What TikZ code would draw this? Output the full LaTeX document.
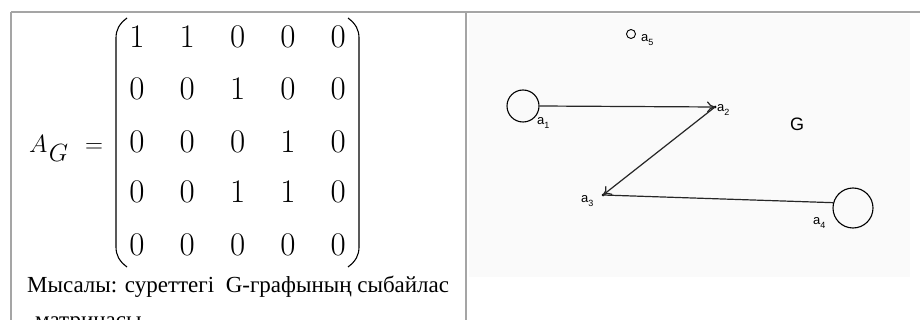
\documentclass[tikz,border=0pt]{standalone}
\usepackage{fontspec}
\newfontfamily\capfont{Liberation Serif}
\newfontfamily\labfont{Liberation Sans}
\usetikzlibrary{arrows.meta}
\definecolor{bordergray}{RGB}{165,165,165}
\tikzset{
  entry/.style={inner sep=0pt, anchor=base, font=\fontsize{33}{33}\selectfont},
  vtx/.style={draw, circle, line width=1.1pt, inner sep=0pt},
  lab/.style={inner sep=0pt, anchor=base west, font=\labfont\fontsize{13}{13}\selectfont},
  edge/.style={line width=1.2pt, black!85},
  arr/.style={edge, -{To[length=8pt,width=11pt]}},
  paren/.style={line width=1.1pt},
  border/.style={bordergray, line width=2pt},
  captxt/.style={inner sep=0pt, anchor=base west, font=\capfont\fontsize{23}{23}\selectfont}
}
\begin{document}
\begin{tikzpicture}[x=1pt,y=-1pt]
\useasboundingbox (0,0) rectangle (920,320);
\fill[white] (0,0) rectangle (920,320);
% right picture background
\fill[black!2] (469,14) rectangle (910,277);
% table borders
\draw[border] (11,12) -- (920,12);
\draw[border] (11,12) -- (11,320);
\draw[border] (466,12) -- (466,320);

% matrix
\node[inner sep=0pt, anchor=base west, font=\fontsize{37}{37}\selectfont] (AG) at (29,153) {$A_{\mkern1mu G}$};
\node[inner sep=0pt, anchor=base west, font=\fontsize{33}{33}\selectfont] (eq) at (85,153) {$=$};
\draw[paren] (127,18) .. controls (119,24) and (116,30) .. (116,38) -- (116,247) .. controls (116,255) and (119,261) .. (127,267);
\draw[paren] (348,18) .. controls (356,24) and (359,30) .. (359,38) -- (359,247) .. controls (359,255) and (356,261) .. (348,267);
\foreach \r/\y/\vals in {1/48/{1,1,0,0,0},2/100/{0,0,1,0,0},3/153/{0,0,0,1,0},4/203/{0,0,1,1,0},5/255/{0,0,0,0,0}}{
  \foreach \v [count=\c] in \vals {
    \pgfmathsetmacro{\xx}{137+50.3*(\c-1)}
    \node[entry] (m\r\c) at (\xx,\y) {\v};
  }
}
% caption
\node[captxt] (cap1) at (27,292) {Мысалы: суреттегі\enspace G-графының сыбайлас};
\node[captxt] (cap2) at (35,327) {матрицасы};

% graph
\node[vtx, minimum size=32pt] (a1) at (523,106) {};
\coordinate (a2) at (715,107);
\coordinate (a3) at (603,195);
\node[vtx, minimum size=40pt] (a4) at (853,208) {};
\node[vtx, minimum size=9pt, line width=0.9pt] (a5) at (631,34) {};
\fill (a2) circle (1.5pt);
\fill (a3) circle (1.5pt);
\draw[arr] (a1.east) -- (a2);
\draw[arr] (a2) -- (a3);
\draw[edge] (a4.165) -- (a3);
\node[lab] (l1) at (537,125) {a\raisebox{-4pt}{\fontsize{9}{9}\selectfont 1}};
\node[lab] (l2) at (717,112) {a\raisebox{-4pt}{\fontsize{9}{9}\selectfont 2}};
\node[lab] (l3) at (581,203) {a\raisebox{-4pt}{\fontsize{9}{9}\selectfont 3}};
\node[lab] (l4) at (813,225) {a\raisebox{-4pt}{\fontsize{9}{9}\selectfont 4}};
\node[lab] (l5) at (641,42) {a\raisebox{-4pt}{\fontsize{9}{9}\selectfont 5}};
\node[inner sep=0pt, anchor=base west, font=\labfont\fontsize{18}{18}\selectfont] (G) at (790,131) {G};
\end{tikzpicture}
\end{document}
